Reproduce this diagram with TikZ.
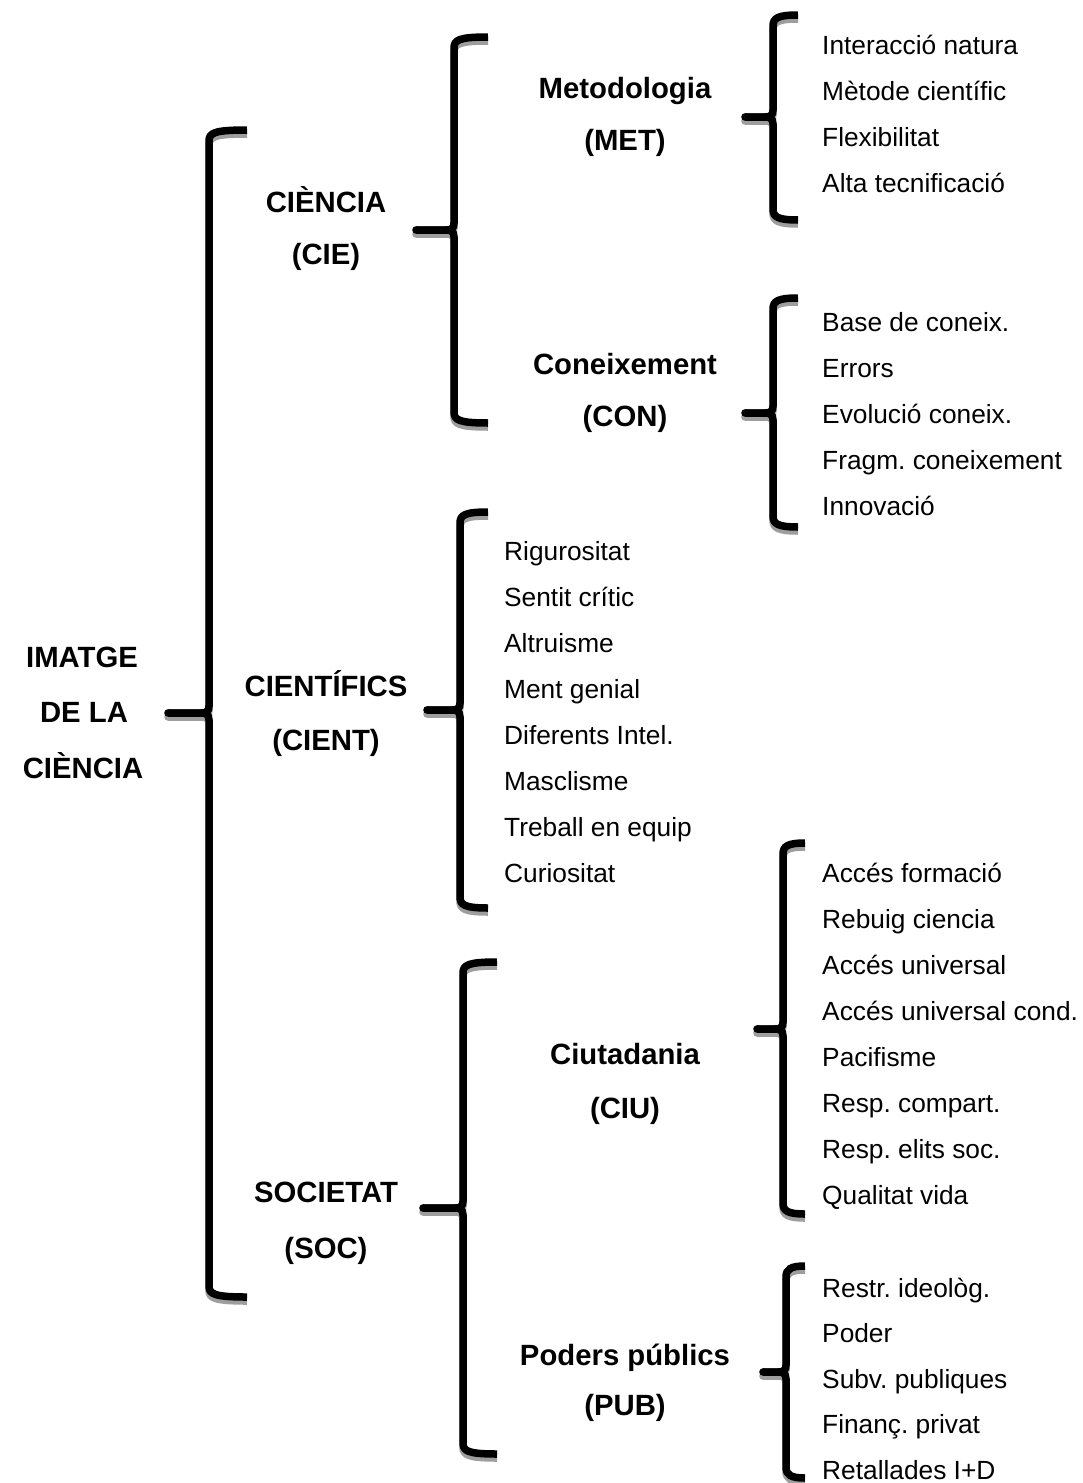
\documentclass[tikz,border=0pt]{standalone}
\usepackage{fontspec}
\setmainfont{Liberation Sans}
\frenchspacing
% #1 colour, #2 tip x, #3 spine x, #4 arm end x, #5 top y, #6 tip y, #7 bottom y
\newcommand\drawcurly[7]{%
  \draw[bracepen,draw=#1] (#2,#6) -- (#3-8,#6) .. controls (#3-3,#6) and (#3,#6-1.5) .. (#3,#6-7)
     -- (#3,#5+11) .. controls (#3,#5+3) and (#3+5,#5) .. (#4,#5);
  \draw[bracepen,draw=#1] (#2,#6) -- (#3-8,#6) .. controls (#3-3,#6) and (#3,#6+1.5) .. (#3,#6+7)
     -- (#3,#7-11) .. controls (#3,#7-3) and (#3+5,#7) .. (#4,#7);
  \fill[#1] (#2,#6) circle[radius=3.8];
}
\newcommand\curly[6]{%
  \begin{scope}[shift={(0,4)}]\drawcurly{braceshadow}{#1}{#2}{#3}{#4}{#5}{#6}\end{scope}
  \drawcurly{black}{#1}{#2}{#3}{#4}{#5}{#6}%
}
\definecolor{braceshadow}{gray}{0.62}
\begin{document}
\begin{tikzpicture}[x=1pt,y=-1pt,
  bracepen/.style={line width=7.5pt},
  item/.style={anchor=west,inner sep=0pt,text height=18.8pt,text depth=0pt,
    font=\fontsize{26.3}{30}\selectfont},
  head/.style={anchor=center,inner sep=0pt,text height=21pt,text depth=0pt,
    font=\fontsize{29.3}{33}\selectfont\bfseries},
]
\useasboundingbox[fill=white] (0,0) rectangle (1083,1483);

% braces: tip x, spine x, arm end x, top, tip y, bottom
\curly{168}{209}{247}{130}{713}{1297}
\curly{416}{454}{488}{37}{230}{423}
\curly{745}{773}{798}{15}{117}{220}
\curly{745}{773}{798}{298}{413}{527}
\curly{427}{460}{488}{512}{710}{908}
\curly{757}{783}{805}{843}{1029}{1214}
\curly{423}{463}{497}{962}{1208}{1454}
\curly{763}{786}{805}{1266}{1372}{1478}

% headings
\node[head] (img1) at (82,657) {IMATGE};
\node[head] (img2) at (84,712) {DE LA};
\node[head] (img3) at (83,768) {CIÈNCIA};

\node[head] (cie1) at (326,202) {CIÈNCIA};
\node[head] (cie2) at (326,254) {(CIE)};
\node[head] (met1) at (625,88) {Metodologia};
\node[head] (met2) at (625,140) {(MET)};
\node[head] (con1) at (625,364) {Coneixement};
\node[head] (con2) at (625,416) {(CON)};
\node[head] (cient1) at (326,686) {CIENTÍFICS};
\node[head] (cient2) at (326,740) {(CIENT)};
\node[head] (ciu1) at (625,1054) {Ciutadania};
\node[head] (ciu2) at (625,1108) {(CIU)};
\node[head] (soc1) at (326,1192) {SOCIETAT};
\node[head] (soc2) at (326,1248) {(SOC)};
\node[head] (pub1) at (625,1355) {Poders públics};
\node[head] (pub2) at (625,1405) {(PUB)};

% item lists
\foreach \t [count=\i] in {Interacció natura,Mètode científic,Flexibilitat,Alta tecnificació}
  \node[item] (met-\i) at (822,{45+46*(\i-1)}) {\t};
\foreach \t [count=\i] in {Base de coneix.,Errors,Evolució coneix.,Fragm. coneixement,Innovació}
  \node[item] (con-\i) at (822,{322+46*(\i-1)}) {\t};
\foreach \t [count=\i] in {Rigurositat,Sentit crític,Altruisme,Ment genial,Diferents Intel.,Masclisme,Treball en equip,Curiositat}
  \node[item] (cient-\i) at (504,{551+46*(\i-1)}) {\t};
\foreach \t [count=\i] in {Accés formació,Rebuig ciencia,Accés universal,Accés universal cond.,Pacifisme,Resp. compart.,Resp. elits soc.,Qualitat vida}
  \node[item] (ciu-\i) at (822,{873+46*(\i-1)}) {\t};
\foreach \t [count=\i] in {Restr. ideològ.,Poder,Subv. publiques,Finanç. privat,Retallades I+D}
  \node[item] (pub-\i) at (822,{1288+45.5*(\i-1)}) {\t};
\end{tikzpicture}
\end{document}
